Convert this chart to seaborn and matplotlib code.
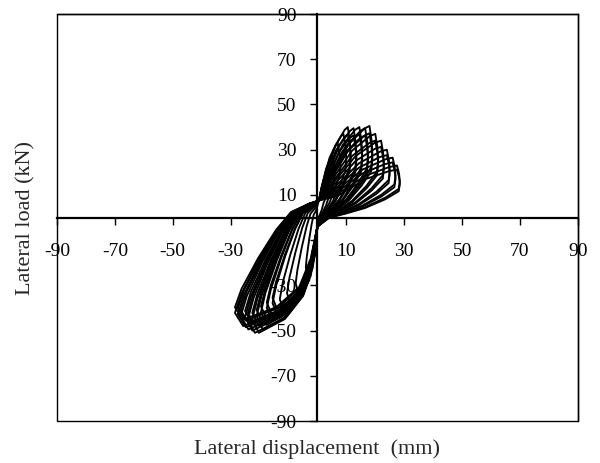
import matplotlib
matplotlib.use("Agg")
import matplotlib.pyplot as plt
import seaborn as sns
import pandas as pd
from matplotlib.patches import Rectangle

# ---- data: hysteresis loops (displacement mm, load kN), one list pair per cycle ----
loop01_disp = [0.5, 0.63, 1.5, 2.25, 2.5, 3.2, 3.5, 3.1, 2.13, 1.5, 0.88, 0.38, 0,
               -0.32, -0.88, -2, -3.6, -4, -3.68, -2.88, -2, -1.28, -0.48, 0.5]
loop01_load = [7.5, 7.65, 13.6, 16.5, 17, 14.45, 11.9, 9.35, 6.46, 3.4, 1.36, 0, -4,
               -10, -17, -22, -25, -22, -17.5, -10, -3, 1.25, 3, 7.5]
loop02_disp = [0.5, 1.25, 3, 4.5, 5, 5.7, 6, 5.6, 4.25, 3, 1.75, 0.75, 0,
               -0.6, -1.65, -3.75, -6.75, -7.5, -6.9, -5.4, -3.75, -2.4, -0.9, 0.5]
loop02_load = [7.5, 12.15, 21.6, 26.2, 27, 22.95, 18.9, 14.85, 10.26, 5.4, 2.16, 0, -4,
               -13.2, -22.4, -29, -33, -29, -23.1, -13.2, -4, 1.65, 4, 7.5]
loop03_disp = [0.5, 1.75, 4.2, 6.3, 7, 7.7, 8, 7.6, 5.95, 4.2, 2.45, 1.05, 0,
               -0.84, -2.31, -5.25, -9.45, -10.5, -9.66, -7.56, -5.25, -3.36, -1.26, 0.5]
loop03_load = [7.5, 14.85, 26.4, 32, 33, 28, 23.1, 18.15, 12.5, 6.6, 2.64, 0, -4,
               -15.2, -25.8, -33.4, -38, -33.4, -26.6, -15.2, -4.6, 1.9, 4.6, 7.5]
loop04_disp = [0.5, 2.25, 5.4, 8.1, 9, 9.7, 10, 9.6, 7.65, 5.4, 3.15, 1.35, 0,
               -1.04, -2.86, -6.5, -11.7, -13, -11.96, -9.36, -6.5, -4.16, -1.56, 0.5]
loop04_load = [7.5, 16.65, 29.6, 35.9, 37, 31.45, 25.9, 20.35, 14.06, 7.4, 2.96, 0, -4,
               -16.4, -27.9, -36.1, -41, -36.1, -28.7, -16.4, -4.9, 2.05, 4.9, 7.5]
loop05_disp = [0.5, 2.63, 6.3, 9.45, 10.5, 11.2, 11.5, 11.1, 8.93, 6.3, 3.68, 1.58, 0,
               -1.24, -3.41, -7.75, -13.95, -15.5, -14.26, -11.16, -7.75, -4.96, -1.86, 0.5]
loop05_load = [7.5, 18, 32, 38.8, 40, 34, 28, 22, 15.2, 8, 3.2, 0, -4,
               -17.2, -29.2, -37.8, -43, -37.8, -30.1, -17.2, -5.2, 2.15, 5.2, 7.5]
loop05b_load = [7.5, 16.56, 29.44, 35.7, 36.8, 31.28, 25.76, 20.24, 13.98, 7.36, 2.94, 0, -4,
                -16.16, -27.47, -35.55, -40.4, -35.55, -28.28, -16.16, -4.85, 2.02, 4.85, 7.5]
loop06_disp = [0.5, 3.13, 7.5, 11.25, 12.5, 13.2, 13.5, 13.1, 10.63, 7.5, 4.38, 1.88, 0,
               -1.4, -3.85, -8.75, -15.75, -17.5, -16.1, -12.6, -8.75, -5.6, -2.1, 0.5]
loop06_load = [7.5, 17.8, 31.6, 38.3, 39.5, 33.6, 27.65, 21.7, 15, 7.9, 3.16, 0, -4,
               -18.2, -30.9, -40, -45.5, -40, -31.85, -18.2, -5.46, 2.28, 5.46, 7.5]
loop06b_load = [7.5, 16.35, 29.07, 35.25, 36.34, 30.89, 25.44, 19.99, 13.81, 7.27, 2.91, 0, -4,
                -17.11, -29.08, -37.64, -42.77, -37.64, -29.94, -17.11, -5.13, 2.14, 5.13, 7.5]
loop07_disp = [0.5, 3.63, 8.7, 13.05, 14.5, 15.2, 15.5, 15.1, 12.33, 8.7, 5.08, 2.18, 0,
               -1.56, -4.29, -9.75, -17.55, -19.5, -17.94, -14.04, -9.75, -6.24, -2.34, 0.5]
loop07_load = [7.5, 18, 32, 38.8, 40, 34, 28, 22, 15.2, 8, 3.2, 0, -4,
               -19, -32.3, -41.8, -47.5, -41.8, -33.25, -19, -5.7, 2.38, 5.7, 7.5]
loop07b_load = [7.5, 16.56, 29.44, 35.7, 36.8, 31.28, 25.76, 20.24, 13.98, 7.36, 2.94, 0, -4,
                -17.86, -30.36, -39.29, -44.65, -39.29, -31.26, -17.86, -5.36, 2.23, 5.36, 7.5]
loop08_disp = [0.5, 4.13, 9.9, 14.85, 16.5, 17.2, 17.5, 17.1, 14.03, 9.9, 5.78, 2.48, 0,
               -1.68, -4.62, -10.5, -18.9, -21, -19.32, -15.12, -10.5, -6.72, -2.52, 0.5]
loop08_load = [7.5, 17.8, 31.6, 38.3, 39.5, 33.6, 27.65, 21.7, 15, 7.9, 3.16, 0, -4,
               -19.8, -33.7, -43.6, -49.5, -43.6, -34.65, -19.8, -5.94, 2.48, 5.94, 7.5]
loop08b_load = [7.5, 16.35, 29.07, 35.25, 36.34, 30.89, 25.44, 19.99, 13.81, 7.27, 2.91, 0, -4,
                -18.61, -31.64, -40.95, -46.53, -40.95, -32.57, -18.61, -5.58, 2.33, 5.58, 7.5]
loop09_disp = [0.5, 4.5, 10.8, 16.2, 18, 18.7, 19, 18.6, 15.3, 10.8, 6.3, 2.7, 0,
               -1.8, -4.95, -11.25, -20.25, -22.5, -20.7, -16.2, -11.25, -7.2, -2.7, 0.5]
loop09_load = [7.5, 18.2, 32.4, 39.3, 40.5, 34.4, 28.35, 22.3, 15.4, 8.1, 3.24, 0, -4,
               -20.4, -34.7, -44.9, -51, -44.9, -35.7, -20.4, -6.12, 2.55, 6.12, 7.5]
loop09b_load = [7.5, 16.77, 29.81, 36.14, 37.26, 31.67, 26.08, 20.49, 14.16, 7.45, 2.98, 0, -4,
                -19.18, -32.6, -42.19, -47.94, -42.19, -33.56, -19.18, -5.75, 2.4, 5.75, 7.5]
loop10_disp = [0.5, 5, 12, 18, 20, 20.7, 21, 20.6, 17, 12, 7, 3, 0,
               -1.92, -5.28, -12, -21.6, -24, -22.08, -17.28, -12, -7.68, -2.88, 0.5]
loop10_load = [7.5, 16.65, 29.6, 35.9, 37, 31.45, 25.9, 20.35, 14.06, 7.4, 2.96, 0, -4,
               -20.4, -34.7, -44.9, -51, -44.9, -35.7, -20.4, -6.12, 2.55, 6.12, 7.5]
loop10b_load = [7.5, 15.32, 27.23, 33.02, 34.04, 28.93, 23.83, 18.72, 12.94, 6.81, 2.72, 0, -4,
                -19.18, -32.6, -42.19, -47.94, -42.19, -33.56, -19.18, -5.75, 2.4, 5.75, 7.5]
loop11_disp = [0.5, 5.5, 13.2, 19.8, 22, 22.7, 23, 22.6, 18.7, 13.2, 7.7, 3.3, 0,
               -2, -5.5, -12.5, -22.5, -25, -23, -18, -12.5, -8, -3, 0.5]
loop11_load = [7.5, 15.3, 27.2, 33, 34, 28.9, 23.8, 18.7, 12.9, 6.8, 2.72, 0, -4,
               -20, -34, -44, -50, -44, -35, -20, -6, 2.5, 6, 7.5]
loop11b_load = [7.5, 14.08, 25.02, 30.34, 31.28, 26.59, 21.9, 17.2, 11.89, 6.26, 2.5, 0, -4,
                -18.8, -31.96, -41.36, -47, -41.36, -32.9, -18.8, -5.64, 2.35, 5.64, 7.5]
loop12_disp = [0.5, 6, 14.4, 21.6, 24, 24.7, 25, 24.6, 20.4, 14.4, 8.4, 3.6, 0,
               -2.12, -5.83, -13.25, -23.85, -26.5, -24.38, -19.08, -13.25, -8.48, -3.18, 0.5]
loop12_load = [7.5, 13.5, 24, 29.1, 30, 25.5, 21, 16.5, 11.4, 6, 2.4, 0, -4,
               -19.8, -33.7, -43.6, -49.5, -43.6, -34.65, -19.8, -5.94, 2.48, 5.94, 7.5]
loop12b_load = [7.5, 12.42, 22.08, 26.77, 27.6, 23.46, 19.32, 15.18, 10.49, 5.52, 2.21, 0, -4,
                -18.61, -31.64, -40.95, -46.53, -40.95, -32.57, -18.61, -5.58, 2.33, 5.58, 7.5]
loop13_disp = [0.5, 6.5, 15.6, 23.4, 26, 26.7, 27, 26.6, 22.1, 15.6, 9.1, 3.9, 0,
               -2.2, -6.05, -13.75, -24.75, -27.5, -25.3, -19.8, -13.75, -8.8, -3.3, 0.5]
loop13_load = [7.5, 11.9, 21.2, 25.7, 26.5, 22.5, 18.55, 14.6, 10.07, 5.3, 2.12, 0, -4,
               -19.4, -33, -42.7, -48.5, -42.7, -33.95, -19.4, -5.82, 2.43, 5.82, 7.5]
loop13b_load = [7.5, 10.97, 19.5, 23.65, 24.38, 20.72, 17.07, 13.41, 9.26, 4.88, 1.95, 0, -4,
                -18.24, -31, -40.12, -45.59, -40.12, -31.91, -18.24, -5.47, 2.28, 5.47, 7.5]
loop14_disp = [0.5, 6.88, 16.5, 24.75, 27.5, 28.2, 28.5, 28.1, 23.4, 16.5, 9.63, 4.13, 0,
               -2.28, -6.27, -14.25, -25.65, -28.5, -26.22, -20.52, -14.25, -9.12, -3.42, 0.5]
loop14_load = [7.5, 10.35, 18.4, 22.3, 23, 19.55, 16.1, 12.65, 8.74, 4.6, 1.84, 0, -4,
               -19.2, -32.6, -42.2, -48, -42.2, -33.6, -19.2, -5.76, 2.4, 5.76, 7.5]
loop14b_load = [7.5, 9.52, 16.93, 20.53, 21.16, 17.99, 14.81, 11.64, 8.04, 4.23, 1.69, 0, -4,
                -18.05, -30.68, -39.71, -45.12, -39.71, -31.58, -18.05, -5.41, 2.26, 5.41, 7.5]

loops = [
    (loop01_disp, loop01_load), (loop02_disp, loop02_load), (loop03_disp, loop03_load),
    (loop04_disp, loop04_load),
    (loop05_disp, loop05_load), (loop05_disp, loop05b_load),
    (loop06_disp, loop06_load), (loop06_disp, loop06b_load),
    (loop07_disp, loop07_load), (loop07_disp, loop07b_load),
    (loop08_disp, loop08_load), (loop08_disp, loop08b_load),
    (loop09_disp, loop09_load), (loop09_disp, loop09b_load),
    (loop10_disp, loop10_load), (loop10_disp, loop10b_load),
    (loop11_disp, loop11_load), (loop11_disp, loop11b_load),
    (loop12_disp, loop12_load), (loop12_disp, loop12b_load),
    (loop13_disp, loop13_load), (loop13_disp, loop13b_load),
    (loop14_disp, loop14_load), (loop14_disp, loop14b_load),
]

tick_values = [-90, -70, -50, -30, -10, 10, 30, 50, 70, 90]
# the -10 labels sit under the dense loops in the reference and are not visible
x_tick_labels = ["-90", "-70", "-50", "-30", "", "10", "30", "50", "70", "90"]
y_tick_labels = ["-90", "-70", "-50", "-30", "", "10", "30", "50", "70", "90"]
x_label = "Lateral displacement  (mm)"
y_label = "Lateral load (kN)"

rows = []
for k, (xs, ys) in enumerate(loops):
    for i, (xv, yv) in enumerate(zip(xs, ys)):
        rows.append({"cycle": k, "order": i, "disp": xv, "load": yv})
df = pd.DataFrame(rows)

# ---- plot ----
sns.set_style("white")
plt.rcParams["font.family"] = ["Liberation Serif", "DejaVu Serif"]

fig = plt.figure(figsize=(6.0, 4.63), dpi=100)
ax = fig.add_axes([0.095, 0.0907, 0.868, 0.879])

sns.lineplot(data=df, x="disp", y="load", units="cycle", estimator=None, sort=False,
             color="black", linewidth=1.35, legend=False, ax=ax, zorder=3)

ax.set_xlim(-90, 90)
ax.set_ylim(-90, 90)

for side in ["left", "bottom"]:
    ax.spines[side].set_position(("data", 0))
    ax.spines[side].set_linewidth(1.6)
    ax.spines[side].set_color("black")
    ax.spines[side].set_visible(True)
for side in ["top", "right"]:
    ax.spines[side].set_linewidth(1.0)
    ax.spines[side].set_color("black")
    ax.spines[side].set_visible(True)
ax.add_patch(Rectangle((0, 0), 1, 1, transform=ax.transAxes, fill=False,
                       edgecolor="black", linewidth=1.0, clip_on=False, zorder=2))

ax.set_xticks(tick_values)
ax.set_xticklabels(x_tick_labels)
ax.set_yticks(tick_values)
ax.set_yticklabels(y_tick_labels)
ax.tick_params(axis="x", direction="out", length=5, width=1.0, pad=13,
               labelsize=14, colors="black", bottom=True, top=False)
ax.tick_params(axis="y", direction="out", length=5, width=1.0, pad=10,
               labelsize=14, colors="black", left=True, right=False)

ax.set_xlabel(x_label, fontsize=16)
ax.set_ylabel(y_label, fontsize=16)
ax.xaxis.set_label_coords(0.5, -0.045)
ax.yaxis.set_label_coords(-0.042, 0.5)
ax.grid(False)

fig.savefig("out.png", dpi=100)
